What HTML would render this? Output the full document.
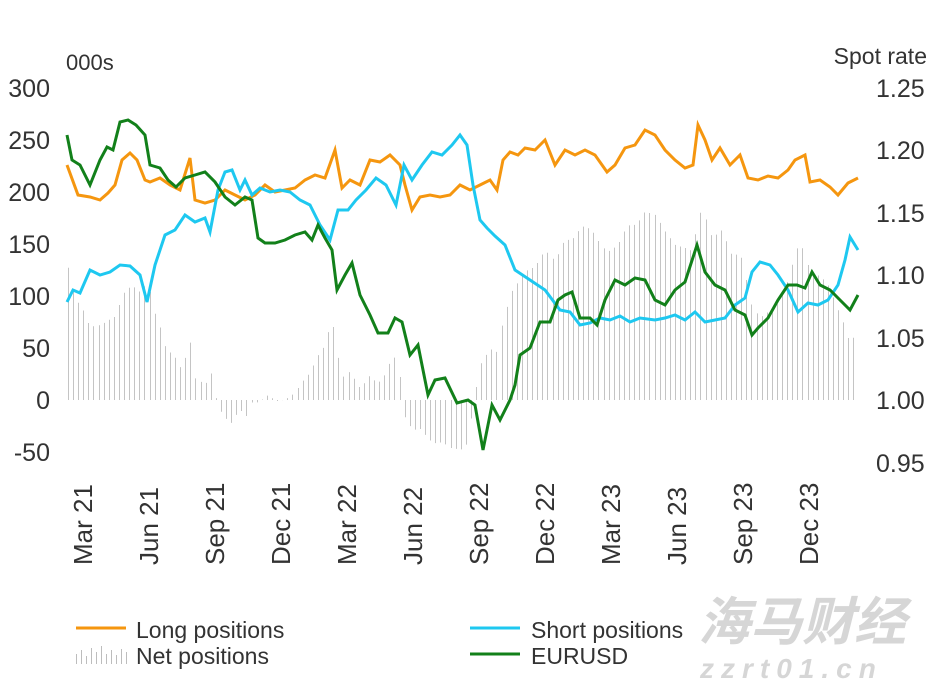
<!DOCTYPE html>
<html><head><meta charset="utf-8"><style>
html,body{margin:0;padding:0;background:#fff;}
svg{display:block;font-family:"Liberation Sans",Arial,sans-serif;}
</style></head><body>
<svg id="c" width="934" height="683" viewBox="0 0 934 683" xmlns="http://www.w3.org/2000/svg">
<g font-size="25" fill="#333">
<text x="50" y="97" text-anchor="end">300</text>
<text x="50" y="149" text-anchor="end">250</text>
<text x="50" y="201" text-anchor="end">200</text>
<text x="50" y="253" text-anchor="end">150</text>
<text x="50" y="305" text-anchor="end">100</text>
<text x="50" y="357" text-anchor="end">50</text>
<text x="50" y="409" text-anchor="end">0</text>
<text x="50" y="461" text-anchor="end">-50</text>
<text x="876" y="97">1.25</text>
<text x="876" y="159">1.20</text>
<text x="876" y="222">1.15</text>
<text x="876" y="284">1.10</text>
<text x="876" y="347">1.05</text>
<text x="876" y="409">1.00</text>
<text x="876" y="472">0.95</text>
</g>
<text x="66" y="70" font-size="22" fill="#333">000s</text>
<text x="927" y="64" font-size="23" fill="#333" text-anchor="end">Spot rate</text>
<g id="xl" font-size="26" fill="#333"></g>
<g id="bars" stroke="#c4c4c4" stroke-width="1"></g>
<polyline id="long" fill="none" stroke="#f5960f" stroke-width="3"/>
<polyline id="short" fill="none" stroke="#1ec8f0" stroke-width="3"/>
<polyline id="eur" fill="none" stroke="#12801a" stroke-width="3"/>
<g font-size="23" fill="#333">
<line x1="76" y1="628" x2="126" y2="628" stroke="#f5960f" stroke-width="3"/>
<text x="136" y="638">Long positions</text>
<g id="legbars" stroke="#bdbdbd" stroke-width="1"></g>
<text x="136" y="664">Net positions</text>
<line x1="470" y1="628" x2="520" y2="628" stroke="#1ec8f0" stroke-width="3"/>
<text x="531" y="638">Short positions</text>
<line x1="470" y1="654" x2="520" y2="654" stroke="#12801a" stroke-width="3"/>
<text x="531" y="664">EURUSD</text>
</g>
<text x="698" y="640" font-size="52" fill="#d6d6d6" font-weight="bold" font-family="'Noto Sans CJK SC',sans-serif" font-style="italic">海马财经</text>
<text x="700" y="678" font-size="28" fill="#d6d6d6" font-weight="bold" font-style="italic" letter-spacing="7">zzrt01.cn</text>
</svg>
<script>
var L=[[67,165],[78,195],[90,197],[100,200],[108,193],[115,185],[122,160],[130,153],[137,160],[145,180],[150,182],[160,178],[170,185],[180,190],[190,158],[195,200],[205,203],[215,200],[225,190],[235,195],[245,200],[255,195],[265,185],[275,192],[285,190],[295,188],[305,180],[315,175],[325,178],[335,150],[342,188],[350,180],[360,185],[370,160],[380,162],[390,155],[400,165],[405,185],[412,210],[420,197],[430,195],[440,197],[450,195],[460,185],[470,190],[480,185],[490,180],[497,190],[503,160],[510,152],[518,155],[525,148],[535,150],[545,140],[555,165],[565,150],[575,155],[585,150],[595,155],[607,172],[615,165],[625,148],[635,145],[645,130],[655,135],[665,150],[675,160],[685,168],[693,165],[698,125],[705,140],[712,160],[720,148],[730,165],[740,155],[748,178],[758,180],[768,176],[778,178],[788,170],[795,160],[805,155],[810,182],[820,180],[830,187],[838,195],[848,183],[858,178]];
var S=[[67,302],[73,290],[80,293],[90,270],[100,275],[110,272],[120,265],[130,266],[140,275],[147,302],[155,265],[165,235],[175,230],[185,215],[195,222],[205,218],[210,232],[218,190],[225,172],[232,170],[240,190],[245,180],[252,195],[260,188],[270,192],[280,190],[290,192],[300,200],[310,205],[320,225],[330,240],[338,210],[348,210],[356,200],[366,190],[376,178],[386,185],[396,205],[404,165],[412,180],[422,165],[432,152],[442,155],[452,145],[460,135],[467,145],[473,185],[480,220],[487,228],[495,236],[505,245],[515,270],[530,280],[545,290],[560,310],[570,312],[580,325],[590,323],[600,318],[610,320],[620,316],[630,322],[640,318],[655,320],[665,318],[675,315],[685,320],[695,312],[705,322],[715,320],[725,318],[735,305],[745,298],[752,272],[760,262],[770,265],[778,275],[788,290],[798,312],[808,303],[818,305],[828,300],[838,285],[845,260],[850,237],[858,250]];
var E=[[67,135],[72,160],[80,165],[90,185],[100,160],[107,147],[113,150],[120,122],[128,120],[136,125],[145,135],[150,165],[160,168],[168,180],[176,187],[185,178],[195,175],[205,172],[215,182],[225,197],[235,205],[245,197],[252,200],[258,238],[265,243],[275,243],[285,240],[295,235],[305,232],[312,240],[318,225],[325,238],[332,250],[337,290],[345,275],[352,263],[360,295],[370,315],[378,333],[388,333],[395,318],[402,322],[410,355],[418,345],[428,395],[435,380],[445,378],[457,403],[468,400],[475,405],[483,450],[492,405],[500,420],[510,400],[515,385],[520,355],[530,348],[540,322],[550,322],[558,300],[565,295],[572,292],[580,318],[590,318],[597,325],[605,300],[615,280],[625,285],[635,278],[645,280],[655,300],[665,305],[675,290],[685,282],[697,245],[705,272],[715,285],[725,290],[735,310],[745,315],[752,335],[758,328],[768,318],[778,300],[788,285],[797,285],[805,288],[812,272],[820,285],[830,290],[838,298],[845,305],[850,310],[858,295]];
function pts(a){return a.map(function(p){return p[0]+","+p[1]}).join(" ");}
function interp(a,x){for(var i=1;i<a.length;i++){if(x<=a[i][0]){var t=(x-a[i-1][0])/(a[i][0]-a[i-1][0]);return a[i-1][1]+t*(a[i][1]-a[i-1][1]);}}return a[a.length-1][1];}
document.getElementById('long').setAttribute('points',pts(L));
document.getElementById('short').setAttribute('points',pts(S));
document.getElementById('eur').setAttribute('points',pts(E));
var ns="http://www.w3.org/2000/svg",b=document.getElementById('bars');
for(var x=68;x<=858;x+=5.1){var h=interp(S,x)-interp(L,x);var l=document.createElementNS(ns,'line');var xx=Math.round(x)+0.5;l.setAttribute('x1',xx);l.setAttribute('x2',xx);l.setAttribute('y1',400);l.setAttribute('y2',400-h);b.appendChild(l);}
var lb=document.getElementById('legbars');var hs=[10,14,8,16,12,18,10,14,9,15,12];
for(var i=0;i<hs.length;i++){var l=document.createElementNS(ns,'line');var xx=76+i*5+0.5;l.setAttribute('x1',xx);l.setAttribute('x2',xx);l.setAttribute('y1',664);l.setAttribute('y2',664-hs[i]);lb.appendChild(l);}
var labs=["Mar 21","Jun 21","Sep 21","Dec 21","Mar 22","Jun 22","Sep 22","Dec 22","Mar 23","Jun 23","Sep 23","Dec 23"];
var xl=document.getElementById('xl');
for(var i=0;i<labs.length;i++){var cx=83+i*66.0;var t=document.createElementNS(ns,'text');t.setAttribute('transform','translate('+(cx+9)+',565) rotate(-90)');t.textContent=labs[i];xl.appendChild(t);}
</script>
</body></html>
